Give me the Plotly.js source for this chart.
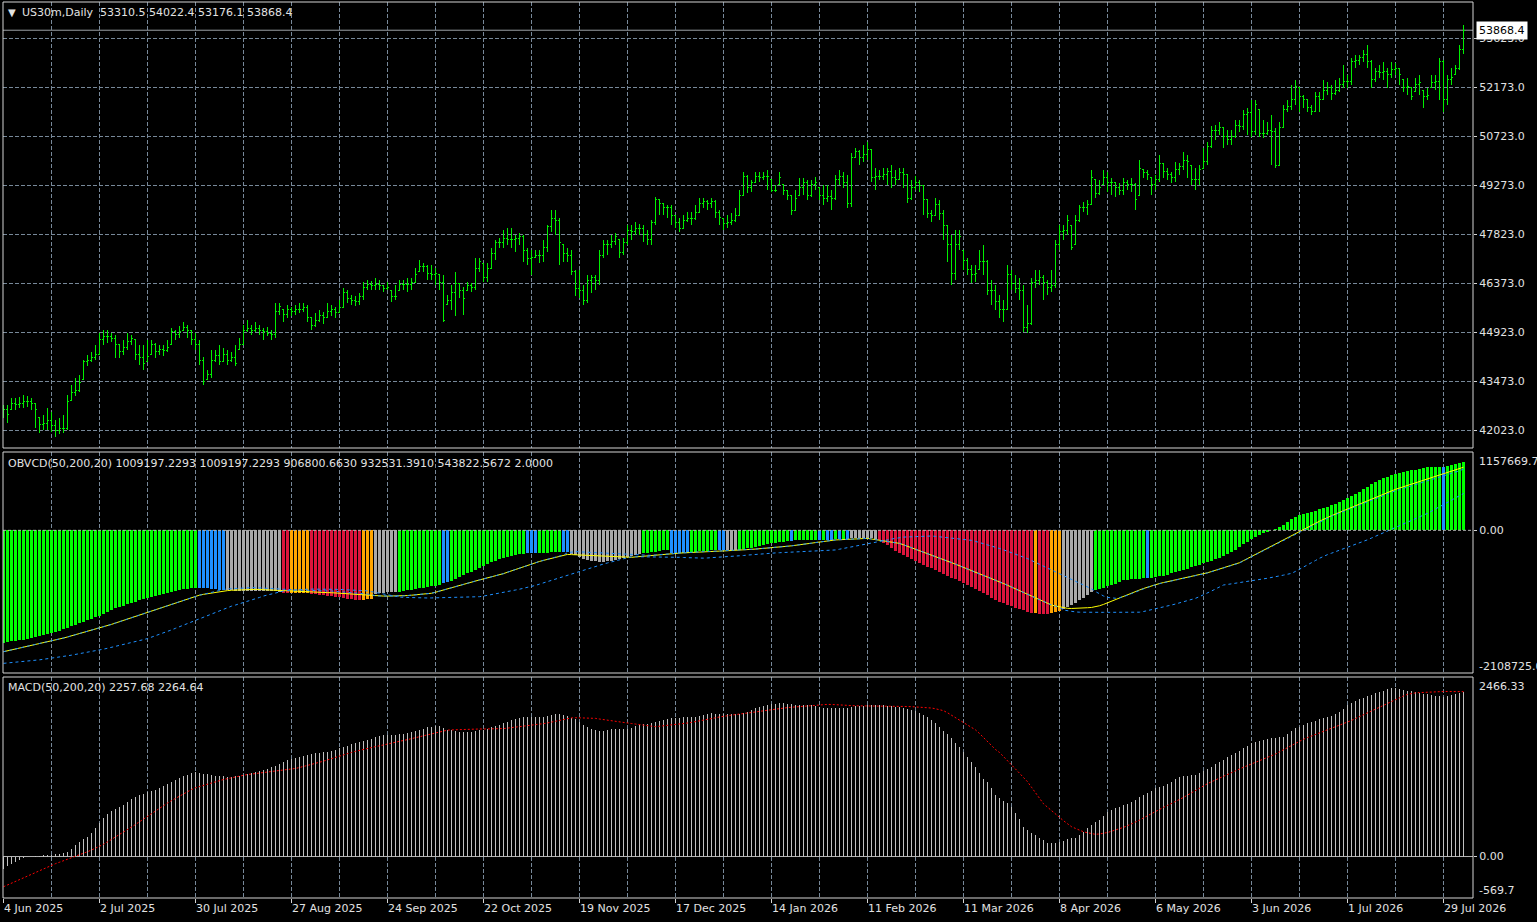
<!DOCTYPE html>
<html>
<head>
<meta charset="utf-8">
<script src="https://cdn.plot.ly/plotly-3.0.1.min.js"></script>
<style>
html,body{margin:0;padding:0;background:#000;overflow:hidden}
#chart{width:1537px;height:922px}
#chart .ohlc path{shape-rendering:crispEdges}
#chart .bars path{shape-rendering:crispEdges}
</style>
</head>
<body>
<div id="chart"></div>
<script>
// ---------------- DATA ----------------
const dateLabels = ['4 Jun 2025','2 Jul 2025','30 Jul 2025','27 Aug 2025','24 Sep 2025','22 Oct 2025','19 Nov 2025','17 Dec 2025','14 Jan 2026','11 Feb 2026','11 Mar 2026','8 Apr 2026','6 May 2026','3 Jun 2026','1 Jul 2026','29 Jul 2026'];
const barsPerLabel = 24;

const barOpen = [
42700,42616,42616,42823,42793,42823,42853,42882,42823,42379,
42200,42230,42319,42171,42023,42082,42082,42912,43149,43208,
43505,44038,44097,44157,44246,44690,44779,44808,44749,44542,
44335,44453,44631,44690,44246,44157,44038,44246,44542,44335,
44394,44364,44542,44927,44838,44986,45075,44986,44690,44542,
44097,43505,43653,44097,44216,44038,44246,44097,44157,44394,
44542,44986,45045,44986,45045,44986,44927,44897,44838,45520,
45579,45431,45579,45520,45579,45608,45638,45342,45134,45282,
45401,45342,45520,45579,45490,45638,46112,45934,45875,45816,
45964,46260,46348,46319,46348,46319,46230,46171,45993,46171,
46348,46348,46348,46408,46705,46853,46882,46675,46645,46616,
46408,45727,45875,46112,46378,46171,46171,46319,46260,46823,
46971,46527,46823,47267,47564,47564,47712,47653,47653,47712,
47742,47356,47119,47149,47208,47208,47445,48038,48304,48245,
47505,47267,47208,46705,46230,46171,45875,46467,46527,46467,
47208,47505,47505,47594,47653,47297,47564,47949,47890,48008,
48008,47801,47653,48186,48838,48749,48601,48601,48393,48186,
48008,48245,48304,48304,48482,48749,48779,48749,48779,48482,
48304,48156,48186,48245,48393,48986,49520,49194,49371,49520,
49490,49520,49431,49134,49283,49283,49134,48986,48541,48986,
49194,49371,48986,49283,49194,48986,48897,48927,48897,49431,
49520,49342,48749,50112,50261,50112,50172,50320,49490,49520,
49549,49579,49668,49490,49431,49638,49579,48897,49194,49371,
49253,48838,48452,48393,48690,48452,48097,47505,46675,47505,
47356,47060,46764,46616,46764,47001,47001,46171,46171,45816,
45579,45579,46616,46378,46230,46171,45075,45193,46408,46467,
46527,46408,46260,46319,47505,47890,47949,48097,47505,48245,
48601,48601,48690,49431,49045,49283,49490,49371,49342,49194,
49134,49342,49283,49312,48986,49727,49638,49490,49283,49431,
49934,49668,49579,49490,49727,49816,50023,49875,49431,49431,
49786,49964,50409,50912,50912,50972,50705,50617,50705,51060,
51001,51357,51416,50853,51505,50823,50823,50912,50853,49875,
50972,51505,51594,51801,52157,51890,51801,51564,51446,51890,
51801,52097,52157,52008,52097,52246,52335,52335,52927,52986,
53046,53135,52927,52394,52631,52601,52631,52542,52690,52749,
52394,52157,52157,52038,52246,52097,51890,52157,52305,52335,
52927,51801,52394,52542,52749,53310.5];

const barHigh = [
42764,42764,42971,42971,43001,43060,43030,42971,42823,42379,
42468,42675,42557,42319,42379,42468,43060,43357,43564,43653,
44097,44246,44335,44542,44897,44986,44986,44897,44838,44542,
44690,44897,44838,44690,44542,44542,44690,44690,44601,44542,
44542,44690,45045,44986,45104,45223,45134,44986,44897,44690,
44187,43801,44394,44394,44542,44453,44394,44335,44542,44749,
45134,45282,45134,45223,45134,45045,45075,44986,45786,45786,
45579,45727,45668,45727,45786,45786,45727,45342,45490,45579,
45520,45786,45727,45668,45875,46230,46171,46023,45993,46082,
46408,46467,46437,46527,46467,46319,46408,46171,46319,46467,
46467,46527,46527,46823,47060,46971,46912,46912,46823,46616,
46616,46023,46319,46705,46378,46260,46408,46378,47119,47119,
46971,46971,47416,47653,47712,47949,48008,48008,47801,47860,
47801,47416,47356,47356,47356,47653,48097,48541,48541,48304,
47505,47416,47356,46764,46764,46319,46616,46616,46616,47356,
47653,47653,47801,47860,47653,47712,48097,48097,48186,48127,
48097,47949,48245,48927,48838,48749,48690,48690,48393,48304,
48393,48482,48482,48690,48897,48897,48838,48897,48838,48541,
48304,48393,48452,48601,49134,49668,49579,49431,49668,49668,
49668,49727,49431,49283,49668,49283,49134,48986,49134,49490,
49490,49431,49431,49520,49194,49283,49283,49134,49579,49727,
49668,49579,50231,50379,50320,50468,50557,50320,49786,49727,
49786,49786,49875,49727,49786,49786,49579,49431,49549,49431,
49283,48838,48541,48897,48838,48541,48097,47801,47949,47949,
47356,47119,46912,46912,47356,47505,47060,46467,46319,46023,
45875,46912,46764,46616,46527,46319,45727,46527,46764,46764,
46616,46467,46764,47653,48097,48097,48393,48097,48393,48690,
48779,48838,49727,49431,49431,49727,49668,49490,49342,49342,
49490,49431,49490,49342,50023,49727,49727,49490,49579,50172,
49934,49786,49668,49964,49934,50261,50172,49875,49786,49875,
50379,50557,51031,51060,51149,50972,50912,50912,51208,51208,
51505,51564,51801,51801,51505,51208,51149,51357,50972,51149,
51653,51801,52246,52394,52157,51949,51801,51653,52038,52038,
52394,52335,52246,52394,52453,52838,52542,53046,53135,53135,
53283,53431,52986,52749,52838,52927,52749,52927,52897,52749,
52394,52453,52157,52453,52542,52097,52157,52542,52542,53046,
52986,52542,52749,52838,53431,54022.4];

const barLow = [
42379,42230,42616,42616,42675,42675,42705,42616,42082,41934,
42023,42023,41964,41816,41904,41934,42023,42912,43030,43149,
43505,43919,44038,44097,44246,44542,44601,44631,44157,44157,
44246,44394,44542,44097,43949,43801,44038,44246,44157,44246,
44216,44335,44542,44690,44749,44986,44749,44542,44394,43949,
43357,43505,43564,44038,43949,44038,43949,44038,43919,44394,
44542,44927,44838,44927,44838,44690,44808,44690,44749,45431,
45223,45342,45401,45431,45490,45520,45223,44986,45075,45223,
45164,45342,45401,45342,45490,45638,45786,45727,45697,45727,
45875,46171,46171,46171,46171,46112,46171,45816,45875,46171,
46171,46112,46171,46378,46705,46705,46467,46467,46319,46171,
45223,45727,45579,45401,45934,45431,46171,46112,46171,46705,
46408,46408,46823,47060,47416,47416,47505,47416,47297,47505,
47001,46912,46616,47119,46971,47001,47297,47890,47801,46912,
47001,47001,46616,45993,45934,45727,45786,46082,46171,46319,
47119,47208,47416,47505,47119,47208,47505,47653,47801,47801,
47594,47505,47505,48097,48393,48393,48304,48097,48008,47890,
48008,48186,48097,48245,48482,48601,48541,48601,48304,48097,
47949,48008,48097,48186,48393,48986,49045,49075,49371,49371,
49431,49134,49075,49075,49283,48986,48838,48393,48541,48986,
48986,48838,48927,49134,48838,48690,48779,48541,48838,49283,
49194,48601,48631,50083,49875,49964,50023,49371,49134,49431,
49431,49283,49194,49283,49431,49194,48749,48838,49134,49075,
48393,48304,48186,48393,48245,47653,47001,46319,46467,47356,
46764,46616,46378,46408,46764,46616,46023,45727,45579,45342,
45223,45579,46171,46082,45875,44927,44897,45134,46230,46319,
45875,46023,46112,46230,47356,47653,47801,47356,47505,48186,
48482,48393,48690,48897,48986,49283,49075,48986,48927,48986,
48986,49134,49075,48541,48986,49490,49431,48986,49134,49371,
49490,49431,49342,49371,49579,49727,49490,49283,49134,49283,
49786,49875,50379,50617,50764,50379,50468,50468,50675,50853,
50912,50764,50705,50764,50705,50675,50764,49875,49786,49875,
50972,51446,51505,51653,51446,51564,51446,51357,51446,51446,
51801,51949,51801,51949,52038,52157,52157,52246,52749,52838,
52927,52749,52157,52335,52453,52394,52157,52453,52542,52246,
52038,51949,51801,52038,51949,51564,51801,52157,52097,51801,
51446,51653,52246,52542,52690,53176.1];

const barClose = [
42616,42468,42823,42793,42823,42853,42882,42823,42616,42200,
42230,42319,42171,42023,42082,42082,42853,43149,43208,43416,
44038,44097,44157,44246,44690,44779,44808,44749,44542,44335,
44453,44631,44749,44246,44157,44008,44187,44542,44335,44394,
44364,44453,44927,44838,44927,45075,44986,44690,44542,44097,
43446,43653,44097,44216,44038,44246,44097,44157,44008,44542,
44986,45045,44986,45045,44986,44927,44897,44838,45520,45668,
45431,45579,45520,45579,45608,45638,45342,45134,45282,45401,
45342,45520,45579,45490,45638,46112,45934,45875,45816,45964,
46260,46348,46319,46348,46319,46230,46260,45993,45993,46348,
46348,46348,46408,46616,46853,46882,46675,46645,46675,46408,
45282,45875,46112,46378,46171,45934,46319,46260,46823,47001,
46527,46794,47267,47564,47564,47712,47653,47653,47712,47742,
47356,47119,47149,47208,47208,47445,48038,48304,48245,47564,
47267,47208,46705,46230,46171,45875,46467,46527,46467,47208,
47505,47505,47594,47742,47297,47564,47949,47890,48008,48008,
47801,47653,48186,48838,48749,48601,48601,48393,48186,48008,
48245,48304,48304,48482,48749,48779,48749,48779,48482,48334,
48156,48186,48245,48393,48986,49520,49194,49342,49520,49490,
49520,49549,49134,49134,49490,49134,48986,48541,48897,49194,
49371,48986,49283,49342,48986,48897,48927,48897,49431,49520,
49342,48749,50112,50261,50112,50172,50320,49490,49520,49549,
49579,49668,49490,49431,49638,49608,48897,49194,49371,49253,
48838,48452,48393,48690,48452,48097,47505,46675,47505,47742,
47060,46764,46616,46675,47001,47001,46171,46171,45816,45579,
45579,46616,46378,46230,46171,45075,45193,46408,46467,46527,
46408,46260,46319,47505,47890,47949,48245,47445,48245,48601,
48601,48690,49490,49045,49194,49490,49371,49342,49194,49134,
49342,49283,49312,48838,49786,49638,49579,49283,49431,49934,
49668,49579,49490,49727,49816,50023,49964,49431,49431,49727,
49964,50409,50912,50912,50972,50705,50617,50705,51060,51001,
51357,51416,50853,51653,50823,50823,50912,50853,49875,50972,
51505,51594,51801,52187,51890,51801,51564,51446,51890,51801,
52097,52157,52008,52097,52246,52335,52335,52927,52986,53046,
53135,52927,52394,52631,52601,52631,52542,52690,52749,52542,
52157,52187,51890,52246,52305,51890,51949,52305,52335,52927,
51801,52394,52453,52749,53310.5,53868.4];

// OBVCD values, in thousands
const obvHist = [
-1661,-1652,-1643,-1634,-1624,-1615,-1606,-1596,-1582,-1567,
-1552,-1537,-1522,-1502,-1481,-1461,-1440,-1418,-1396,-1373,
-1351,-1329,-1307,-1284,-1262,-1235,-1207,-1180,-1153,-1132,
-1112,-1091,-1070,-1052,-1034,-1017,-999,-981,-966,-951,
-937,-922,-909,-897,-884,-872,-864,-856,-848,-850,
-852,-856,-862,-868,-875,-882,-886,-889,-891,-893,
-895,-896,-897,-898,-899,-900,-901,-902,-904,-906,
-925,-931,-924,-922,-921,-922,-924,-935,-942,-950,
-958,-966,-974,-983,-992,-1002,-1012,-1020,-1026,-1030,
-1028,-1022,-1016,-935,-928,-922,-917,-912,-907,-905,
-897,-888,-879,-869,-859,-849,-838,-828,-818,-808,
-775,-760,-745,-718,-690,-663,-636,-609,-582,-555,
-528,-501,-474,-446,-419,-406,-393,-380,-367,-354,
-343,-340,-338,-336,-334,-331,-328,-325,-322,-319,
-317,-316,-345,-370,-395,-420,-439,-450,-458,-464,
-462,-456,-448,-440,-428,-415,-400,-385,-370,-355,
-340,-332,-322,-314,-306,-298,-291,-330,-332,-335,
-334,-330,-318,-313,-309,-305,-300,-296,-291,-291,
-290,-292,-292,-290,-285,-277,-268,-258,-248,-236,
-222,-207,-193,-182,-174,-167,-162,-155,-150,-147,
-145,-143,-142,-141,-140,-139,-138,-137,-135,-133,
-131,-129,-118,-114,-110,-108,-110,-116,-128,-143,
-180,-218,-258,-300,-340,-368,-396,-424,-452,-480,
-507,-535,-562,-589,-617,-644,-671,-699,-726,-753,
-781,-808,-839,-870,-901,-932,-962,-993,-1024,-1055,
-1077,-1098,-1120,-1141,-1163,-1184,-1206,-1227,-1228,-1230,
-1232,-1233,-1228,-1212,-1190,-1160,-1135,-1105,-1070,-1035,
-995,-955,-915,-880,-865,-850,-830,-810,-790,-760,
-740,-728,-720,-715,-712,-710,-710,-705,-695,-682,
-668,-653,-638,-623,-605,-585,-565,-545,-528,-510,
-490,-470,-450,-428,-405,-385,-355,-322,-285,-245,
-205,-168,-132,-100,-70,-40,-18,0,25,50,
85,125,165,195,225,245,260,275,292,308,
325,345,370,395,420,450,482,512,542,571,
605,640,680,718,745,770,795,817,835,850,
865,878,888,898,908,920,930,934,937,940,
943,955,965,978,993,1009.197];

// colour state of each histogram bar, as runs: G green, B blue, S silver, R red, O orange
const obvColorRuns = [['G',49],['B',7],['S',14],['R',2],['O',5],['R',13],['O',3],['S',6],['G',11],['B',2],
['G',19],['B',3],['G',6],['B',2],['S',18],['G',7],['B',5],['G',7],['B',2],['S',3],['G',13],['B',1],['G',6],
['B',1],['G',1],['B',2],['G',1],['B',1],['G',1],['B',1],['S',7],['R',39],['O',1],['R',3],['O',3],['S',8],
['G',13],['B',1],['G',73],['B',1],['G',5]];

const obvYellow = [
-1794,-1781,-1768,-1756,-1743,-1730,-1718,-1705,-1692,-1680,
-1667,-1655,-1640,-1624,-1608,-1592,-1576,-1560,-1544,-1528,
-1512,-1496,-1480,-1464,-1448,-1429,-1409,-1390,-1370,-1350,
-1331,-1311,-1291,-1272,-1252,-1232,-1213,-1193,-1172,-1151,
-1130,-1109,-1088,-1067,-1046,-1028,-1010,-992,-974,-958,
-946,-935,-924,-914,-905,-897,-891,-886,-882,-878,
-875,-873,-872,-873,-875,-878,-881,-885,-889,-893,
-896,-899,-902,-906,-909,-912,-916,-918,-919,-920,
-921,-921,-922,-926,-931,-936,-942,-947,-953,-958,
-963,-967,-969,-970,-971,-972,-972,-972,-971,-971,
-968,-964,-959,-954,-949,-943,-937,-930,-915,-898,
-880,-862,-844,-827,-809,-791,-778,-763,-748,-733,
-718,-704,-690,-675,-661,-640,-619,-598,-577,-556,
-535,-514,-493,-476,-460,-444,-428,-412,-396,-380,
-364,-356,-359,-362,-365,-368,-371,-374,-377,-380,
-382,-385,-387,-390,-392,-394,-396,-399,-393,-387,
-381,-375,-370,-364,-358,-353,-349,-345,-341,-337,
-333,-329,-324,-320,-316,-314,-312,-311,-309,-307,
-305,-303,-301,-297,-293,-289,-285,-281,-277,-273,
-269,-265,-259,-253,-247,-241,-235,-229,-223,-217,
-208,-199,-190,-181,-172,-163,-154,-145,-142,-139,
-136,-133,-130,-127,-124,-121,-119,-128,-137,-146,
-155,-164,-174,-183,-193,-214,-235,-256,-277,-298,
-319,-340,-362,-385,-408,-431,-454,-477,-500,-523,
-546,-568,-592,-616,-640,-664,-688,-712,-736,-760,
-786,-812,-838,-864,-890,-916,-942,-968,-996,-1024,
-1052,-1080,-1104,-1118,-1131,-1143,-1153,-1155,-1155,-1152,
-1148,-1144,-1140,-1130,-1115,-1095,-1070,-1045,-1020,-1000,
-981,-957,-932,-907,-882,-860,-840,-820,-800,-786,
-772,-759,-746,-733,-721,-709,-697,-686,-672,-658,
-644,-627,-609,-590,-570,-551,-532,-513,-494,-479,
-448,-418,-387,-356,-325,-294,-264,-233,-202,-172,
-142,-112,-81,-51,-20,11,42,73,104,135,
166,191,216,241,266,291,316,341,366,391,
415,439,464,488,512,536,560,584,606,625,
644,663,682,701,720,739,758,777,796,815,
834,853,872,891,912,932.531];

const obvBlueFast = [
-1966,-1961,-1956,-1950,-1945,-1940,-1935,-1928,-1921,-1914,
-1906,-1899,-1892,-1883,-1873,-1864,-1854,-1845,-1835,-1824,
-1813,-1802,-1791,-1780,-1769,-1756,-1743,-1730,-1716,-1703,
-1690,-1675,-1660,-1645,-1630,-1615,-1600,-1580,-1560,-1540,
-1520,-1496,-1472,-1448,-1424,-1400,-1378,-1356,-1334,-1310,
-1285,-1260,-1235,-1210,-1187,-1164,-1140,-1121,-1104,-1087,
-1070,-1052,-1033,-1013,-992,-971,-955,-939,-920,-907,
-897,-890,-884,-880,-876,-873,-870,-869,-868,-868,
-868,-869,-870,-872,-874,-876,-878,-880,-882,-883,
-885,-895,-907,-919,-931,-945,-958,-970,-981,-986,
-990,-993,-996,-998,-1000,-1000,-1000,-999,-998,-997,
-996,-995,-994,-993,-992,-990,-988,-986,-984,-981,
-972,-962,-952,-942,-931,-919,-907,-895,-882,-870,
-858,-846,-833,-814,-795,-776,-757,-738,-718,-699,
-680,-661,-643,-624,-606,-587,-569,-550,-532,-513,
-498,-482,-467,-451,-436,-421,-405,-390,-390,-390,
-390,-390,-390,-390,-390,-390,-390,-393,-396,-399,
-402,-405,-408,-411,-414,-411,-408,-405,-402,-399,
-396,-393,-390,-384,-378,-372,-366,-360,-355,-349,
-343,-340,-337,-334,-331,-328,-325,-322,-319,-316,
-314,-312,-310,-308,-306,-305,-303,-301,-290,-279,
-268,-257,-246,-235,-224,-213,-207,-194,-181,-168,
-155,-142,-129,-116,-103,-100,-98,-95,-93,-91,
-88,-86,-84,-89,-95,-100,-106,-111,-117,-122,
-128,-133,-148,-163,-179,-194,-212,-228,-248,-268,
-288,-308,-328,-349,-369,-390,-418,-446,-474,-501,
-529,-557,-585,-612,-640,-667,-694,-722,-749,-776,
-803,-830,-865,-905,-940,-970,-992,-1003,-1004,-995,
-983,-960,-935,-910,-885,-863,-843,-823,-803,-789,
-775,-762,-749,-736,-724,-712,-700,-689,-675,-661,
-647,-630,-612,-593,-573,-554,-535,-516,-497,-482,
-451,-421,-390,-359,-328,-297,-267,-236,-205,-175,
-145,-115,-84,-54,-23,8,39,70,100,130,
160,185,210,234,258,282,306,330,354,378,
401,424,448,471,494,517,540,563,584,602,
620,638,656,674,692,710,728,746,764,782,
800,818,836,854,880,906.801];

const obvBlueSlow = [
-1794,-1781,-1768,-1756,-1743,-1730,-1718,-1705,-1692,-1680,
-1667,-1655,-1640,-1624,-1608,-1592,-1576,-1560,-1544,-1528,
-1512,-1496,-1480,-1464,-1448,-1429,-1409,-1390,-1370,-1350,
-1331,-1311,-1291,-1272,-1252,-1232,-1213,-1193,-1172,-1151,
-1130,-1109,-1088,-1067,-1046,-1028,-1010,-992,-974,-958,
-946,-930,-912,-898,-885,-875,-866,-861,-857,-853,
-850,-848,-847,-848,-850,-853,-856,-860,-864,-868,
-871,-874,-877,-881,-884,-887,-891,-893,-894,-895,
-896,-896,-897,-901,-906,-911,-917,-922,-928,-933,
-938,-942,-950,-970,-971,-972,-972,-972,-971,-971,
-968,-964,-959,-954,-949,-943,-937,-930,-915,-898,
-880,-862,-844,-827,-809,-791,-778,-763,-748,-733,
-718,-704,-690,-675,-661,-640,-619,-598,-577,-556,
-535,-514,-493,-476,-460,-444,-428,-412,-396,-380,
-364,-330,-318,-315,-318,-321,-325,-328,-332,-335,
-337,-340,-342,-345,-347,-350,-355,-362,-365,-370,
-375,-375,-370,-364,-358,-353,-349,-345,-341,-337,
-333,-329,-324,-320,-316,-314,-312,-311,-309,-307,
-305,-303,-301,-297,-293,-289,-285,-281,-277,-273,
-269,-265,-259,-253,-247,-241,-235,-229,-223,-217,
-208,-199,-190,-181,-172,-163,-154,-145,-142,-139,
-136,-133,-130,-127,-124,-121,-119,-128,-137,-146,
-155,-164,-174,-183,-193,-214,-235,-256,-277,-298,
-319,-340,-362,-385,-408,-431,-454,-477,-500,-523,
-546,-568,-592,-616,-640,-664,-688,-712,-736,-760,
-786,-812,-838,-864,-890,-916,-942,-968,-996,-1024,
-1052,-1080,-1104,-1118,-1140,-1178,-1190,-1200,-1206,-1210,
-1212,-1212,-1212,-1212,-1212,-1212,-1212,-1212,-1212,-1212,
-1212,-1212,-1212,-1212,-1210,-1200,-1185,-1168,-1153,-1140,
-1128,-1116,-1104,-1089,-1074,-1059,-1044,-1030,-1005,-980,
-956,-926,-897,-867,-838,-808,-800,-792,-784,-775,
-765,-755,-745,-734,-725,-717,-708,-700,-687,-674,
-662,-649,-636,-607,-577,-544,-511,-478,-446,-413,
-380,-359,-338,-317,-296,-276,-255,-234,-213,-192,
-166,-140,-114,-88,-62,-36,-10,12,38,62,
88,114,140,168,196,223,251,283,316,348,
381,414,446,479,511,543.823];

const macdMain = [
-165,-135,-100,-70,-45,-25,-12,-3,5,10,
15,20,25,32,40,52,66,110,158,195,
235,272,330,395,456,525,580,620,655,685,
708,750,790,815,840,860,880,900,920,945,
970,990,1020,1045,1075,1100,1125,1150,1165,1150,
1140,1130,1120,1110,1105,1100,1098,1096,1100,1110,
1125,1140,1150,1160,1175,1190,1205,1225,1250,1275,
1300,1320,1340,1355,1370,1385,1395,1405,1418,1425,
1435,1442,1450,1465,1485,1500,1520,1540,1555,1570,
1585,1600,1620,1640,1660,1665,1670,1672,1676,1680,
1690,1700,1712,1724,1740,1755,1775,1785,1790,1795,
1770,1745,1735,1725,1715,1708,1705,1712,1722,1732,
1740,1758,1775,1790,1810,1830,1850,1870,1885,1900,
1912,1920,1922,1922,1920,1920,1935,1950,1958,1955,
1948,1930,1910,1890,1850,1810,1775,1750,1735,1724,
1730,1742,1752,1752,1752,1752,1752,1770,1795,1805,
1815,1822,1830,1845,1860,1878,1890,1898,1903,1907,
1912,1916,1920,1921,1935,1950,1960,1967,1962,1958,
1955,1954,1954,1954,1958,1970,1990,2013,2035,2055,
2072,2085,2095,2100,2103,2104,2100,2092,2085,2081,
2081,2081,2081,2070,2055,2040,2036,2036,2036,2036,
2036,2040,2055,2065,2068,2072,2076,2080,2081,2081,
2078,2072,2065,2059,2050,2038,2025,2013,1995,1970,
1950,1915,1875,1830,1780,1725,1680,1630,1565,1509,
1440,1370,1300,1230,1150,1070,1020,940,850,800,
760,731,684,600,515,410,360,325,295,260,
227,181,181,181,204,215,240,250,258,300,
341,390,433,470,502,555,607,635,660,684,
705,725,745,780,815,845,875,905,937,955,
975,992,1025,1060,1096,1105,1112,1118,1120,1150,
1175,1205,1235,1270,1294,1330,1365,1395,1418,1450,
1485,1520,1555,1570,1585,1600,1614,1622,1632,1640,
1646,1690,1730,1761,1785,1810,1830,1848,1866,1885,
1899,1913,1927,1954,1990,2030,2075,2110,2140,2165,
2182,2200,2222,2242,2260,2278,2295,2311,2311,2302,
2290,2280,2274,2262,2250,2238,2228,2220,2210,2200,
2196,2205,2220,2235,2245,2257.68];

const macdSignal = [
-415,-390,-365,-340,-315,-290,-265,-240,-215,-190,
-165,-140,-118,-98,-78,-58,-38,-20,-3,20,
43,66,89,112,135,168,201,234,267,300,
333,366,400,440,478,516,554,592,630,668,
706,735,768,800,830,860,890,920,945,962,
978,995,1012,1030,1045,1058,1070,1082,1095,1108,
1120,1127,1133,1140,1147,1153,1158,1165,1172,1178,
1185,1192,1198,1210,1223,1236,1250,1263,1277,1292,
1310,1328,1346,1365,1384,1400,1415,1430,1445,1460,
1475,1488,1499,1510,1521,1532,1543,1554,1565,1577,
1591,1605,1619,1633,1647,1661,1675,1690,1702,1714,
1726,1736,1740,1743,1745,1747,1749,1750,1751,1752,
1752,1752,1752,1752,1752,1758,1764,1770,1777,1784,
1791,1798,1805,1812,1819,1826,1835,1847,1859,1871,
1883,1895,1905,1907,1907,1907,1907,1907,1898,1889,
1880,1871,1862,1855,1848,1841,1834,1827,1820,1815,
1807,1799,1791,1784,1789,1795,1800,1806,1811,1816,
1825,1834,1843,1852,1862,1873,1884,1895,1906,1917,
1928,1937,1943,1950,1956,1962,1968,1975,1984,1993,
2002,2011,2020,2029,2036,2041,2046,2051,2056,2061,
2066,2070,2074,2078,2082,2086,2090,2089,2085,2080,
2075,2072,2071,2071,2070,2070,2070,2069,2069,2068,
2067,2066,2065,2064,2063,2062,2061,2059,2056,2053,
2050,2046,2040,2030,2018,2004,1975,1940,1905,1870,
1838,1806,1772,1740,1690,1635,1580,1525,1470,1430,
1375,1320,1267,1206,1145,1085,1028,952,876,800,
725,678,630,580,533,492,451,410,386,362,
340,327,314,305,310,316,330,347,364,378,
401,424,447,470,500,531,562,593,624,650,
676,702,728,754,780,812,844,876,908,940,
975,1001,1027,1053,1079,1105,1131,1160,1183,1205,
1227,1249,1271,1293,1316,1339,1362,1385,1408,1438,
1468,1498,1528,1560,1588,1611,1634,1657,1680,1703,
1723,1743,1763,1783,1803,1823,1843,1870,1896,1922,
1948,1974,2003,2030,2057,2084,2111,2138,2163,2185,
2206,2228,2243,2248,2252,2256,2260,2263,2265,2266,
2267,2267,2266,2266,2265,2264.64];

// ---------------- STYLE / LAYOUT ----------------
const FONT = 'DejaVu Sans, Verdana, sans-serif';
const TXT = '#e2e2e2';
const GRID = '#778899';
const FRAME = '#d4d4d4';
const PL = 3, PR = 1473, PT = 2, PB = 898;          // plot area in pixels
const pxX = x => (x - PL) / (PR - PL);
const pxY = y => (PB - y) / (PB - PT);
const domY = (top, bot) => [pxY(bot), pxY(top)];

const idx = barClose.map((_, i) => i);
const n = idx.length;

const colorMap = {G:'#00ff00', B:'#1e90ff', S:'#a9a9a9', R:'#dc143c', O:'#ffa500'};
const histColors = [];
obvColorRuns.forEach(([c, k]) => { for (let j = 0; j < k; j++) histColors.push(colorMap[c]); });

const majorVals = dateLabels.map((_, k) => k * barsPerLabel);
const minorVals = majorVals.map(v => v + barsPerLabel / 2).filter(v => v < n);

const traces = [
  {type:'ohlc', x:idx, open:barOpen, high:barHigh, low:barLow, close:barClose,
   xaxis:'x', yaxis:'y', tickwidth:0.28,
   increasing:{line:{color:'#00ee00', width:1}}, decreasing:{line:{color:'#00ee00', width:1}},
   hoverinfo:'skip'},
  {type:'bar', x:idx, y:obvHist, xaxis:'x', yaxis:'y2', width:0.75,
   marker:{color:histColors, line:{width:0}}, hoverinfo:'skip'},
  {type:'scatter', mode:'lines', x:idx, y:obvYellow, xaxis:'x', yaxis:'y2',
   line:{color:'#ffff00', width:1}, hoverinfo:'skip'},
  {type:'scatter', mode:'lines', x:idx, y:obvBlueSlow, xaxis:'x', yaxis:'y2',
   line:{color:'#1e90ff', width:1, dash:'3px,3px'}, hoverinfo:'skip'},
  {type:'scatter', mode:'lines', x:idx, y:obvBlueFast, xaxis:'x', yaxis:'y2',
   line:{color:'#1e90ff', width:1, dash:'3px,3px'}, hoverinfo:'skip'},
  {type:'bar', x:idx, y:macdMain, xaxis:'x', yaxis:'y3', width:0.3,
   marker:{color:'#c0c0c0', line:{width:0}}, hoverinfo:'skip'},
  {type:'scatter', mode:'lines', x:idx, y:macdSignal, xaxis:'x', yaxis:'y3',
   line:{color:'#ff0000', width:1, dash:'2px,2px'}, hoverinfo:'skip'}
];

const tickFont = {family:FONT, size:11, color:TXT};
const yCommon = {anchor:'x', side:'right', showline:false, zeroline:false, ticks:'outside',
  ticklen:3, tickcolor:FRAME, tickfont:tickFont, fixedrange:true};

const last = n - 1;
const frameRect = yr => ({type:'rect', xref:'paper', x0:0, x1:1, yref:yr, y0:0, y1:1,
  line:{color:FRAME, width:1}, fillcolor:'rgba(0,0,0,0)', layer:'above'});

const layout = {
  width:1537, height:922,
  paper_bgcolor:'#000000', plot_bgcolor:'#000000',
  margin:{l:PL, r:1537 - PR, t:PT, b:922 - PB, pad:0},
  showlegend:false, barmode:'overlay', bargap:0,
  font:{family:FONT, size:11, color:TXT},
  xaxis:{domain:[0,1], anchor:'y3', range:[-0.125, 367.375],
    tickmode:'array', tickvals:majorVals, ticktext:dateLabels,
    ticks:'outside', ticklen:4, tickcolor:FRAME, ticklabelposition:'outside right',
    tickfont:tickFont, showgrid:true, gridcolor:GRID, gridwidth:1, griddash:'4px,2px',
    minor:{tickmode:'array', tickvals:minorVals, showgrid:true, gridcolor:GRID, gridwidth:1, griddash:'4px,2px', ticks:''},
    zeroline:false, showline:false, rangeslider:{visible:false}, fixedrange:true},
  yaxis:Object.assign({}, yCommon, {domain:domY(PT, 448), range:[41489.7, 54704.5],
    tickmode:'linear', tick0:42023, dtick:1450, tickformat:'.1f',
    showgrid:true, gridcolor:GRID, gridwidth:1, griddash:'4px,2px'}),
  yaxis2:Object.assign({}, yCommon, {domain:domY(452, 673), range:[-2108.725, 1157.6697],
    tickmode:'array', tickvals:[0], ticktext:['0.00'], showgrid:false}),
  yaxis3:Object.assign({}, yCommon, {domain:domY(677, PB), range:[-569.7, 2466.33],
    tickmode:'array', tickvals:[0], ticktext:['0.00'], showgrid:false}),
  shapes:[
    {type:'line', xref:'paper', x0:0, x1:1, yref:'y3', y0:0, y1:0, line:{color:'#b4b4b4', width:1}, layer:'below'},
    {type:'line', xref:'paper', x0:0, x1:1, yref:'y2', y0:0, y1:0, line:{color:'#b0b0b0', width:1, dash:'3px,2px'}, layer:'above'},
    {type:'line', xref:'paper', x0:0, x1:1, yref:'y', y0:barClose[last], y1:barClose[last], line:{color:'#9aa0a6', width:1}, layer:'below'},
    frameRect('y domain'), frameRect('y2 domain'), frameRect('y3 domain')
  ],
  annotations:[
    {xref:'paper', yref:'paper', x:pxX(6), y:pxY(12), xanchor:'left', yanchor:'middle', showarrow:false,
     text:'▼', font:{family:FONT, size:10, color:TXT}},
    {xref:'paper', yref:'paper', x:pxX(20), y:pxY(12.5), xanchor:'left', yanchor:'middle', showarrow:false,
     text:'US30m,Daily  ' + [barOpen[last], barHigh[last], barLow[last], barClose[last]].map(v => v.toFixed(1)).join(' '),
     font:{family:FONT, size:11, color:TXT}},
    {xref:'paper', yref:'paper', x:pxX(6), y:pxY(463), xanchor:'left', yanchor:'middle', showarrow:false,
     text:'OBVCD(50,200,20) 1009197.2293 1009197.2293 906800.6630 932531.3910 543822.5672 2.0000',
     font:{family:FONT, size:11, color:TXT}},
    {xref:'paper', yref:'paper', x:pxX(6), y:pxY(687.5), xanchor:'left', yanchor:'middle', showarrow:false,
     text:'MACD(50,200,20) ' + macdMain[last].toFixed(2) + ' ' + macdSignal[last].toFixed(2),
     font:{family:FONT, size:11, color:TXT}},
    {xref:'paper', yref:'y', x:pxX(1476), y:barClose[last], xanchor:'left', yanchor:'middle', showarrow:false,
     text:barClose[last].toFixed(1), bgcolor:'#ffffff', borderpad:2,
     font:{family:FONT, size:11, color:'#000000'}},
    {xref:'paper', yref:'paper', x:pxX(1477), y:pxY(461), xanchor:'left', yanchor:'middle', showarrow:false,
     text:'1157669.7', font:{family:FONT, size:11, color:TXT}},
    {xref:'paper', yref:'paper', x:pxX(1477), y:pxY(666.5), xanchor:'left', yanchor:'middle', showarrow:false,
     text:'-2108725.0', font:{family:FONT, size:11, color:TXT}},
    {xref:'paper', yref:'paper', x:pxX(1477), y:pxY(686), xanchor:'left', yanchor:'middle', showarrow:false,
     text:'2466.33', font:{family:FONT, size:11, color:TXT}},
    {xref:'paper', yref:'paper', x:pxX(1477), y:pxY(890.5), xanchor:'left', yanchor:'middle', showarrow:false,
     text:'-569.7', font:{family:FONT, size:11, color:TXT}}
  ]
};

Plotly.newPlot('chart', traces, layout, {staticPlot:true, displayModeBar:false});
</script>
</body>
</html>
